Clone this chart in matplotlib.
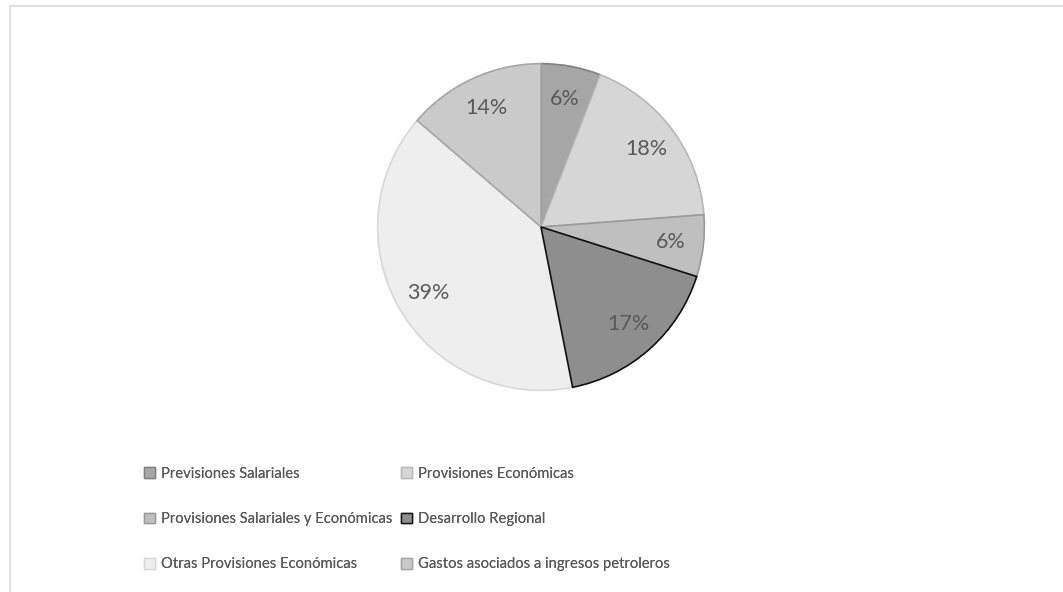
import matplotlib
matplotlib.use("Agg")
import matplotlib.pyplot as plt
from matplotlib.patches import Patch, Rectangle

labels = ["Previsiones Salariales", "Provisiones Económicas",
          "Provisiones Salariales y Económicas", "Desarrollo Regional",
          "Otras Provisiones Económicas", "Gastos asociados a ingresos petroleros"]
values = [5.9, 17.9, 6.1, 17.0, 39.4, 13.7]
colors = ["#a6a6a6", "#d6d6d6", "#bfbfbf", "#8e8e8e", "#eeeeee", "#cacaca"]
edges = ["#808080", "#b8b8b8", "#9a9a9a", "#111111", "#d8d8d8", "#a6a6a6"]

plt.rcParams['font.family'] = ['Lato', 'DejaVu Sans']
W, H = 1063, 592
fig = plt.figure(figsize=(W/100, H/100), dpi=100)

# chart border
fig.patches.append(Rectangle((9.5/W, -0.1), 1.2, (H-6)/H + 0.1, transform=fig.transFigure,
                             fill=False, edgecolor="#d9d9d9", linewidth=1.2))

cx, cy, r = 541, H-227, 165
ax = fig.add_axes([(cx-r)/W, (cy-r)/H, 2*r/W, 2*r/H])
wedges, texts, autotexts = ax.pie(values, colors=colors, startangle=90, counterclock=False,
                                  autopct='%.0f%%', pctdistance=0.8,
                                  wedgeprops=dict(linewidth=1.2),
                                  textprops=dict(color="#595959", fontsize=15.5))
for w, e in zip(wedges, edges):
    w.set_edgecolor(e)
wedges[3].set_zorder(5)
for t in autotexts:
    t.set_zorder(10)
ax.set_xlim(-1.01, 1.01)
ax.set_ylim(-1.01, 1.01)
ax.axis('off')

handles = [Patch(facecolor=c, edgecolor=e, linewidth=1.0) for c, e in zip(colors, edges)]
col_x = [144, 401]
for k, x in enumerate(col_x):
    idx = [k, k + 2, k + 4]
    leg = fig.legend([handles[i] for i in idx], [labels[i] for i in idx], ncol=1,
                     loc='upper left', bbox_to_anchor=(x/W, 1 - 467/H), frameon=False,
                     fontsize=10.6, handlelength=0.75, handleheight=0.75, handletextpad=0.4,
                     labelspacing=2.12, borderaxespad=0, borderpad=0)
    for t in leg.get_texts():
        t.set_color("#595959")
    fig.add_artist(leg)

fig.savefig("out.png", dpi=100, facecolor="white")
